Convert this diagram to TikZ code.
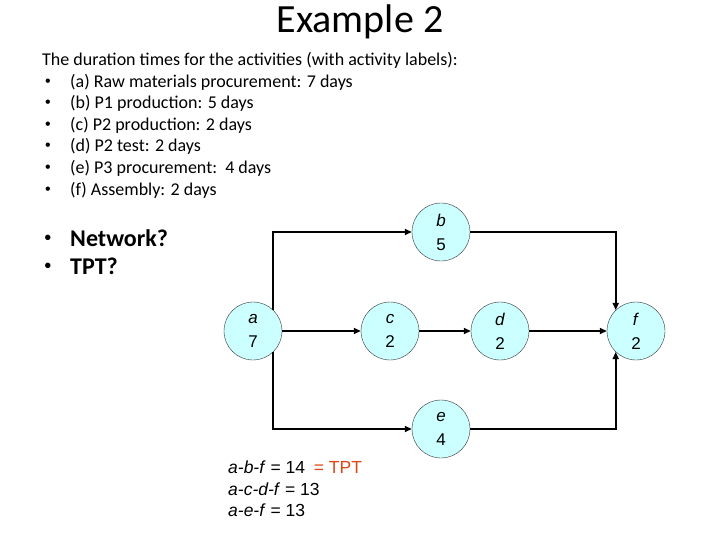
\documentclass[tikz,border=0pt]{standalone}
\usepackage{fontspec}
\setmainfont{Carlito}
\newfontfamily\arialfont{Liberation Sans}
\usetikzlibrary{arrows.meta}

\definecolor{actfill}{RGB}{204,255,255}
\definecolor{tptred}{RGB}{220,70,20}
\def\Body{\fontsize{18}{21}\selectfont}

\begin{document}
\begin{tikzpicture}[x=1pt,y=-1pt,
  act/.style={circle,draw=black!80,thin,fill=actfill,minimum size=58pt,
    inner sep=0pt,align=center,font=\arialfont\fontsize{17}{24}\selectfont},
  link/.style={line width=1.6pt,-{Triangle[length=7pt,width=6pt]}},
  txt/.style={anchor=base west,inner sep=0pt,font=\Body},
  dot/.style={inner sep=0pt,font=\arialfont\fontsize{16}{16}\selectfont}]
  \useasboundingbox (0,0) rectangle (720,540);

  % --- Title ---
  \node (title) at (360,22) {\fontsize{40}{44}\selectfont Example 2};

  % --- Activities ---
  \node[txt] (intro) at (42,66) {The duration times for the activities (with activity labels):};
  \foreach \y/\t [count=\i] in {%
    88/{(a) Raw materials procurement: 7 days},
    109/{(b) P1 production: 5 days},
    131/{(c) P2 production: 2 days},
    152/{(d) P2 test: 2 days},
    174/{(e) P3 procurement:\ \ 4 days},
    196/{(f) Assembly: 2 days}}
  {
    \node[dot] (dot\i) at (48,\y-5) {\textbullet};
    \node[txt] (item\i) at (70,\y) {\t};
  }

  % --- Questions ---
  \node[dot,font=\arialfont\fontsize{20}{20}\selectfont] (qdot1) at (48,240) {\textbullet};
  \node[txt,font=\fontsize{24}{28}\bfseries] (q1) at (70,246) {Network?};
  \node[dot,font=\arialfont\fontsize{20}{20}\selectfont] (qdot2) at (48,268) {\textbullet};
  \node[txt,font=\fontsize{24}{28}\bfseries] (q2) at (70,274) {TPT?};

  % --- Network ---
  \foreach \n/\x/\y/\d in {a/253/331/7, b/441/232/5, c/390/331/2,
                           d/500/331/2, e/441/429/4, f/636/331/2}
  {
    \node[act] (\n) at (\x,\y) {\textit{\n}\\\d};
  }
  \draw[link] (a) -- (c);
  \draw[link] (c) -- (d);
  \draw[link] (d) -- (f);
  \draw[link] (a.46) |- (b);
  \draw[link] (a.-46) |- (e);
  \draw[link] (b) -| (f.134);
  \draw[link] (e) -| (f.-134);

  % --- Paths ---
  \node[txt,font=\arialfont\fontsize{17.5}{21}\selectfont] (path1) at (228,473)
    {\textit{a-b-f} = 14\enspace\textcolor{tptred}{= TPT}};
  \node[txt,font=\arialfont\fontsize{17.5}{21}\selectfont] (path2) at (228,495)
    {\textit{a-c-d-f} = 13};
  \node[txt,font=\arialfont\fontsize{17.5}{21}\selectfont] (path3) at (228,516)
    {\textit{a-e-f} = 13};
\end{tikzpicture}
\end{document}
